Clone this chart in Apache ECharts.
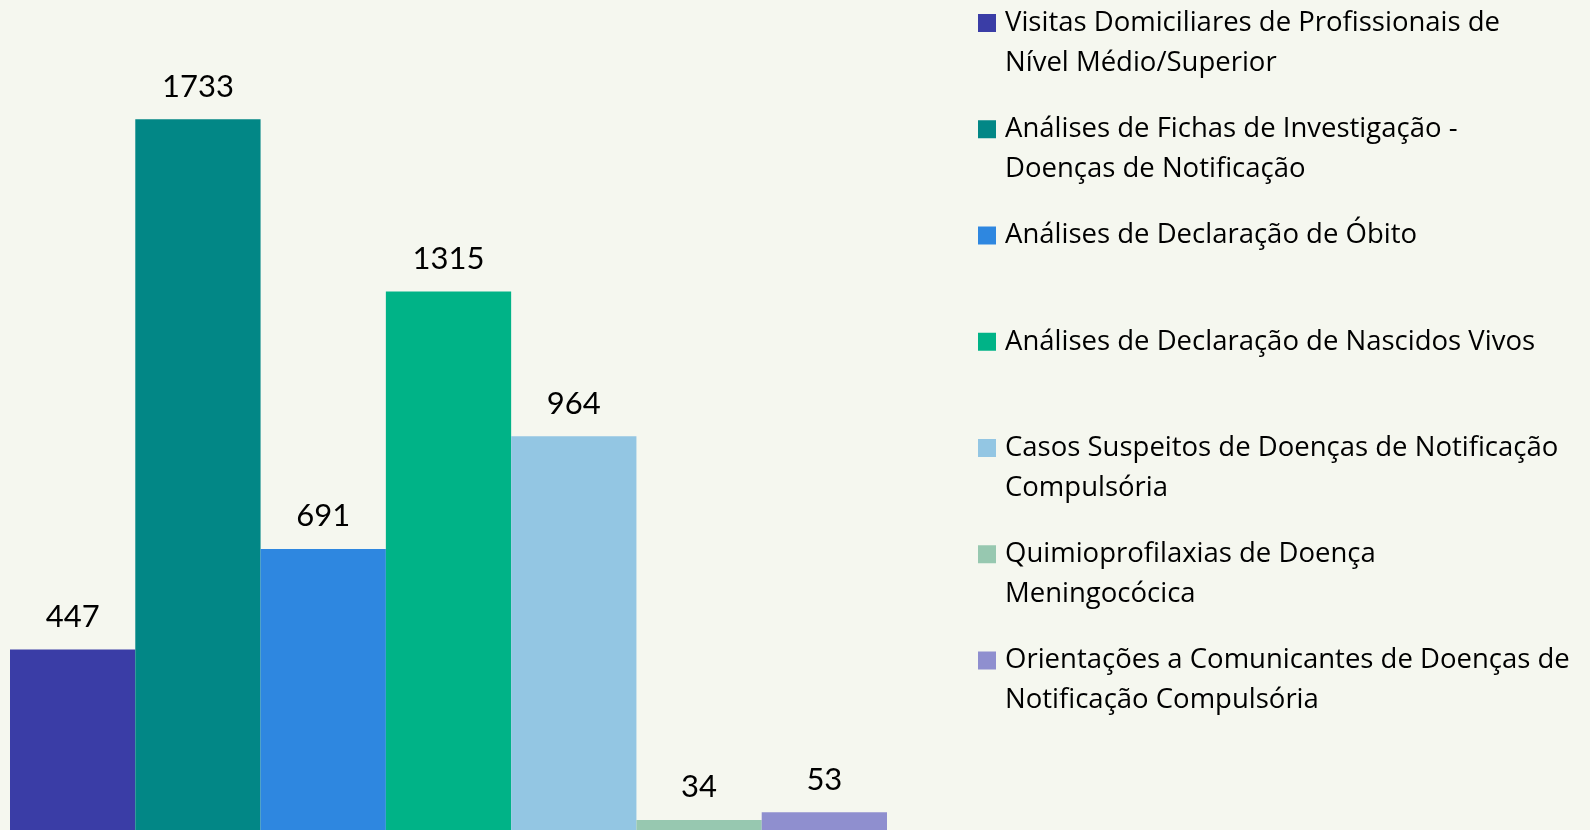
<!DOCTYPE html>
<html>
<head>
<meta charset="utf-8">
<script src="https://cdn.jsdelivr.net/npm/echarts@6/dist/echarts.min.js"></script>
<style>
  html, body { margin: 0; padding: 0; background: #f5f7ef; overflow: hidden; }
  /* a few px taller than the window: the baseline sits just below the visible edge */
  #chart { width: 1590px; height: 834px; }
</style>
</head>
<body>
<div id="chart"></div>
<script>
// series names (line breaks as in the legend)
const names = [
  'Visitas Domiciliares de Profissionais de\nNível Médio/Superior',
  'Análises de Fichas de Investigação -\nDoenças de Notificação',
  'Análises de Declaração de Óbito',
  'Análises de Declaração de Nascidos Vivos',
  'Casos Suspeitos de Doenças de Notificação\nCompulsória',
  'Quimioprofilaxias de Doença\nMeningocócica',
  'Orientações a Comunicantes de Doenças de\nNotificação Compulsória'
]
const values = [447, 1733, 691, 1315, 964, 34, 53]
const colors = ['#3a3da6', '#028786', '#2e87e0', '#00b387', '#93c6e3', '#97c8b0', '#8f8fcf']

const labelFont = 'Lato, "Open Sans", sans-serif'
const legendFont = '"Open Sans", Lato, sans-serif'

const series = names.map((name, i) => ({
  type: 'bar',
  name: name,
  data: [values[i]],
  barGap: '0%',
  barCategoryGap: '0%',
  itemStyle: { color: colors[i] },
  label: {
    show: true,
    position: 'top',
    distance: 17,
    color: '#000',
    fontFamily: labelFont,
    fontSize: 31
  }
}))

const chart = echarts.init(document.getElementById('chart'))
chart.setOption({
  backgroundColor: '#f5f7ef',
  animation: false,
  grid: { left: 10, right: 703, top: 9, bottom: 0 },
  xAxis: {
    type: 'category',
    data: [''],
    show: false
  },
  yAxis: {
    type: 'value',
    min: 0,
    max: 2000,
    show: false
  },
  legend: {
    orient: 'vertical',
    left: 978,
    top: -37,
    padding: 0,
    itemGap: -13.75,
    itemWidth: 18,
    itemHeight: 18,
    icon: 'rect',
    selectedMode: false,
    // blank first line keeps the icon level with the first text line
    formatter: name => '\n' + name + (name.indexOf('\n') < 0 ? '\n ' : ''),
    textStyle: {
      fontFamily: legendFont,
      fontSize: 27.5,
      lineHeight: 40,
      color: '#000',
      padding: [0, 0, 0, 4]
    }
  },
  series: series
})
</script>
</body>
</html>
